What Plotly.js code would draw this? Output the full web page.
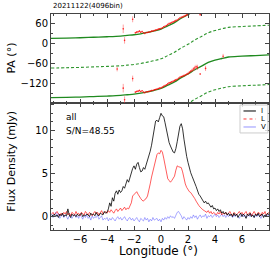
<!DOCTYPE html>
<html><head><meta charset="utf-8">
<script src="https://cdn.plot.ly/plotly-3.0.1.min.js"></script>
<style>html,body{margin:0;padding:0;background:#fff}#c{width:274px;height:262px}</style>
</head><body><div id="c"></div>
<script>
// Profile: longitude bins (deg) from -8.1 to 8.0 in 0.1 steps
const lonStart = -8.1, lonStep = 0.1;
const fluxI = [
0.2,0.1,0.3,0.0,0.2,-0.1,0.3,0.1,0.4,0.0,
0.2,0.1,0.9,0.2,-0.1,0.3,0.1,0.2,0.0,0.3,
0.1,0.2,0.4,0.0,0.2,0.1,0.3,0.2,0.0,0.4,
0.2,0.3,0.1,0.5,0.2,0.1,0.4,0.3,0.2,0.6,
0.4,0.5,0.9,1.6,1.2,2.2,1.8,2.7,3.0,2.6,
3.1,2.8,3.0,3.5,3.3,3.8,4.3,4.0,4.6,5.3,
5.6,5.9,5.5,6.1,6.3,5.7,5.2,5.3,5.7,5.5,
6.0,6.4,7.0,7.6,8.3,9.4,10.5,11.1,11.2,11.0,
11.5,12.0,11.7,11.6,10.9,10.0,9.3,8.6,8.2,7.8,
7.5,7.4,7.9,8.7,9.6,10.5,10.8,10.2,9.0,7.8,
7.0,6.3,5.6,5.1,4.7,4.2,3.9,3.5,3.0,2.6,
2.4,2.1,1.9,1.6,1.8,1.5,1.6,1.3,1.1,1.3,
0.9,1.0,0.7,0.9,0.6,0.8,0.4,0.6,0.3,0.5,
0.2,0.4,0.1,0.3,0.0,0.4,0.1,0.3,-0.1,0.2,
0.4,0.0,0.3,0.1,-0.2,0.3,0.1,0.4,0.0,0.2,
-0.1,0.3,0.1,0.4,0.0,0.2,0.3,-0.1,0.2,0.1,
0.4,0.2];
const fluxL = [
0.3,0.5,0.2,0.4,0.6,0.3,0.1,0.4,0.2,0.5,
0.3,0.6,0.2,0.4,0.1,0.5,0.3,0.2,0.6,0.3,
0.4,0.1,0.5,0.3,0.2,0.6,0.4,0.2,0.5,0.3,
0.1,0.4,0.6,0.3,0.5,0.2,0.4,0.7,0.3,0.5,
0.6,0.4,0.7,0.5,0.8,0.6,0.4,0.7,0.9,0.6,
0.8,1.0,0.7,0.9,1.1,0.8,1.0,0.9,1.2,1.6,
2.4,2.6,2.8,2.9,2.6,2.3,2.1,1.9,1.8,2.0,
2.1,2.4,3.0,3.8,4.6,5.3,6.1,6.8,7.2,7.4,
7.3,7.7,7.5,6.8,5.9,5.0,4.4,4.2,4.0,4.2,
4.5,4.7,5.4,5.9,5.8,5.7,5.7,5.2,4.4,3.8,
3.4,3.1,2.9,2.8,2.6,2.4,2.1,1.8,1.5,1.3,
1.1,0.9,0.8,0.7,0.6,0.5,0.7,0.4,0.6,0.3,
0.5,0.4,0.2,0.5,0.3,0.6,0.2,0.4,0.3,0.5,
0.2,0.4,0.6,0.3,0.1,0.5,0.3,0.2,0.4,0.6,
0.3,0.5,0.2,0.4,0.6,0.2,0.3,0.5,0.1,0.4,
0.6,0.3,0.2,0.5,0.4,0.1,0.5,0.3,0.6,0.2,
0.4,0.5];
const fluxV = [
0.3,-0.1,0.2,0.5,0.0,0.4,-0.2,0.1,0.3,-0.1,
0.2,0.0,-0.3,0.1,0.2,-0.2,0.0,0.3,-0.1,0.1,
-0.2,0.2,0.0,-0.3,0.1,-0.1,0.2,-0.2,0.0,-0.4,
0.1,-0.2,0.0,-0.1,0.2,-0.3,-0.1,0.1,-0.4,-0.2,
-0.3,-0.1,-0.5,-0.2,-0.4,-0.1,-0.3,-0.5,-0.2,0.0,
-0.3,-0.1,-0.4,-0.2,0.0,-0.3,-0.5,-0.2,-0.1,-0.4,
-0.2,-0.5,-0.3,-0.1,-0.4,-0.6,-0.2,-0.3,-0.5,-0.1,
-0.4,-0.2,-0.6,-0.3,-0.5,-0.1,-0.4,-0.3,-0.2,-0.5,
-0.3,-0.6,-0.2,-0.4,-0.1,-0.3,0.0,-0.2,0.1,-0.1,
0.0,-0.2,0.2,0.5,0.6,0.4,0.1,-0.3,0.0,-0.2,
-0.4,-0.1,-0.3,0.0,-0.2,0.2,-0.1,0.1,-0.3,0.0,
0.2,-0.1,0.1,0.0,0.3,-0.2,0.1,0.0,0.2,-0.1,
0.1,0.3,0.0,0.2,-0.1,0.1,0.3,0.0,0.2,-0.1,
0.2,0.0,0.3,0.1,-0.1,0.2,0.0,0.3,0.1,-0.2,
0.1,0.3,0.0,0.2,-0.1,0.1,0.2,0.0,0.3,0.1,
-0.1,0.2,0.0,0.3,0.1,-0.2,0.2,0.0,0.1,0.3,
0.0,0.2];

// RVM fit curve (PA, deg)
const rvmLon = [-8.15,-7,-6,-5,-4,-3,-2.5,-2,-1.5,-1,-0.5,0,0.5,1,1.5,2,2.5,3,3.5,4,4.5,5,6,7,8];
const rvmPA  = [16,17,18,19.5,21,23,25,27,30,34,38.5,44,54,64,77,88,101,112,123,130,135,139.5,142,144,146];

// Measured PA points
const paLon = [-3.25,-2.8,-2.7,-2.1,-1.9,-1.8,-1.7,-1.6,-1.5,-1.4,-1.3,-1.2,-1.1,-1.0,-0.9,-0.8,-0.7,-0.6,-0.5,-0.4,-0.3,-0.2,-0.1,0.0,0.1,0.2,0.3,0.4,0.5,0.6,0.7,0.8,0.9,1.0,1.1,1.2,1.3,1.4,1.5,1.6,1.7,1.8,1.9,2.0,2.1,2.2,2.3,2.4,2.5,2.6,2.7,2.9,3.3,4.6];
const paVal = [-77,45,10,74,33,35,36,38,35,37,33,31,34,34,35,36,38,38,40,41,42,44,45,46,48,51,53,55,58,61,62,64,66,68,70,72,75,78,80,81,83,85,87,89,93,96,99,103,106,110,108,88,105,142];
const paErr = [7,13,10,9,3,3,3,3,2,2,2,2,2,2,2,2,2,2,2,2,2,2,2,2,2,2,2,2,3,3,3,3,3,3,3,2,2,2,2,3,3,3,3,4,4,4,5,6,7,6,8,3,8,7];

const lon = fluxI.map((_, i) => Math.round((lonStart + lonStep * i) * 100) / 100);
const shift = (arr, d) => arr.map(v => v + d);

const green = '#1f8a1f';
const ptMarker = {color:'rgba(255,0,0,0.8)', size:1.6};
const ptErr = {type:'data', array:paErr, color:'rgba(255,60,60,0.6)', thickness:0.8, width:0};
const traces = [
  {x: rvmLon, y: rvmPA, xaxis:'x2', yaxis:'y2', mode:'lines', line:{color:green, width:1.3, shape:'spline'}},
  {x: rvmLon, y: shift(rvmPA,-180), xaxis:'x2', yaxis:'y2', mode:'lines', line:{color:green, width:1.3, shape:'spline'}},
  {x: rvmLon, y: shift(rvmPA,-90), xaxis:'x2', yaxis:'y2', mode:'lines', line:{color:'#2e962e', width:1.1, dash:'3px,2px', shape:'spline'}},
  {x: rvmLon, y: shift(rvmPA,-270), xaxis:'x2', yaxis:'y2', mode:'lines', line:{color:'#2e962e', width:1.1, dash:'3px,2px', shape:'spline'}},
  {x: rvmLon, y: shift(rvmPA,90), xaxis:'x2', yaxis:'y2', mode:'lines', line:{color:'#2e962e', width:1.1, dash:'3px,2px', shape:'spline'}},
  {x: paLon, y: paVal, xaxis:'x2', yaxis:'y2', mode:'markers', marker:ptMarker, error_y:ptErr},
  {x: paLon, y: shift(paVal,-180), xaxis:'x2', yaxis:'y2', mode:'markers', marker:ptMarker, error_y:ptErr},
  {x: lon, y: fluxV, mode:'lines', line:{color:'rgba(60,60,255,0.55)', width:0.8}},
  {x: lon, y: fluxL, mode:'lines', line:{color:'rgba(255,0,0,0.8)', width:0.8}},
  {x: lon, y: fluxI, mode:'lines', line:{color:'#000', width:0.8}}
];

const axCol = '#444';
const tf = {family:'DejaVu Sans, sans-serif', size:10, color:'#000'};
const xCommon = {range:[-8.15,8.0], showgrid:false, zeroline:false, showline:true, linecolor:axCol, linewidth:1,
  mirror:'ticks', ticks:'inside', ticklen:4, tickcolor:axCol, tickwidth:1, tickmode:'array', tickvals:[-6,-4,-2,0,2,4,6],
  minor:{tickmode:'linear', dtick:1, tick0:0, ticks:'inside', ticklen:2, tickcolor:axCol}, tickfont:tf};
const layout = {
  width:274, height:262, margin:{l:51, r:5, t:14, b:32}, showlegend:false,
  paper_bgcolor:'#fff', plot_bgcolor:'#fff', font:{family:'DejaVu Sans, sans-serif'},
  xaxis: Object.assign({}, xCommon, {anchor:'y'}),
  xaxis2: Object.assign({}, xCommon, {anchor:'y2', matches:'x', showticklabels:false}),
  yaxis: {domain:[0,0.588], range:[-1.55,13.2], showgrid:false, zeroline:false, showline:true, linecolor:axCol,
    mirror:'ticks', ticks:'inside', ticklen:4, tickcolor:axCol, dtick:5, tick0:0,
    minor:{dtick:1, tick0:0, ticks:'inside', ticklen:2, tickcolor:axCol}, tickfont:tf},
  yaxis2: {domain:[0.588,1], range:[-180,90], showgrid:false, zeroline:false, showline:true, linecolor:axCol,
    mirror:'ticks', ticks:'inside', ticklen:4, tickcolor:axCol, tickmode:'array', tickvals:[-120,-60,0,60],
    minor:{tickmode:'linear', dtick:30, tick0:0, ticks:'inside', ticklen:2, tickcolor:axCol}, tickfont:tf},
  shapes:[
    {type:'rect', xref:'x domain', yref:'y domain', x0:0.867, x1:0.995, y0:0.764, y1:0.984, line:{color:'#ccc', width:1}, fillcolor:'rgba(255,255,255,0.8)'},
    {type:'line', xref:'x domain', yref:'y domain', x0:0.883, x1:0.94, y0:0.937, y1:0.937, line:{color:'#000', width:1}},
    {type:'line', xref:'x domain', yref:'y domain', x0:0.883, x1:0.94, y0:0.874, y1:0.874, line:{color:'rgba(255,0,0,0.8)', width:1, dash:'dot'}},
    {type:'line', xref:'x domain', yref:'y domain', x0:0.883, x1:0.94, y0:0.811, y1:0.811, line:{color:'rgba(60,60,255,0.55)', width:1}}
  ],
  annotations:[
    {text:'20211122(4096bin)', xref:'paper', yref:'paper', x:0, y:1.037, xanchor:'left', yanchor:'middle', showarrow:false, font:{size:7, color:'#000'}},
    {text:'PA (°)', xref:'paper', yref:'paper', x:-0.18, y:0.797, textangle:-90, xanchor:'center', yanchor:'middle', showarrow:false, font:{size:11, color:'#000'}},
    {text:'Flux Density (mJy)', xref:'paper', yref:'paper', x:-0.18, y:0.32, textangle:-90, xanchor:'center', yanchor:'middle', showarrow:false, font:{size:11, color:'#000'}},
    {text:'Longitude (°)', xref:'paper', yref:'paper', x:0.491, y:-0.097, xanchor:'center', yanchor:'middle', showarrow:false, font:{size:12, color:'#000'}},
    {text:'all', xref:'x domain', yref:'y domain', x:0.06, y:0.89, xanchor:'left', yanchor:'middle', showarrow:false, font:{size:9, color:'#000'}},
    {text:'S/N=48.55', xref:'x domain', yref:'y domain', x:0.06, y:0.78, xanchor:'left', yanchor:'middle', showarrow:false, font:{size:9, color:'#000'}},
    {text:'I', xref:'x domain', yref:'y domain', x:0.955, y:0.937, xanchor:'left', yanchor:'middle', showarrow:false, font:{size:7, color:'#000'}},
    {text:'L', xref:'x domain', yref:'y domain', x:0.955, y:0.874, xanchor:'left', yanchor:'middle', showarrow:false, font:{size:7, color:'#000'}},
    {text:'V', xref:'x domain', yref:'y domain', x:0.955, y:0.811, xanchor:'left', yanchor:'middle', showarrow:false, font:{size:7, color:'#000'}}
  ]
};
Plotly.newPlot('c', traces, layout, {staticPlot:true, displayModeBar:false});
</script></body></html>
